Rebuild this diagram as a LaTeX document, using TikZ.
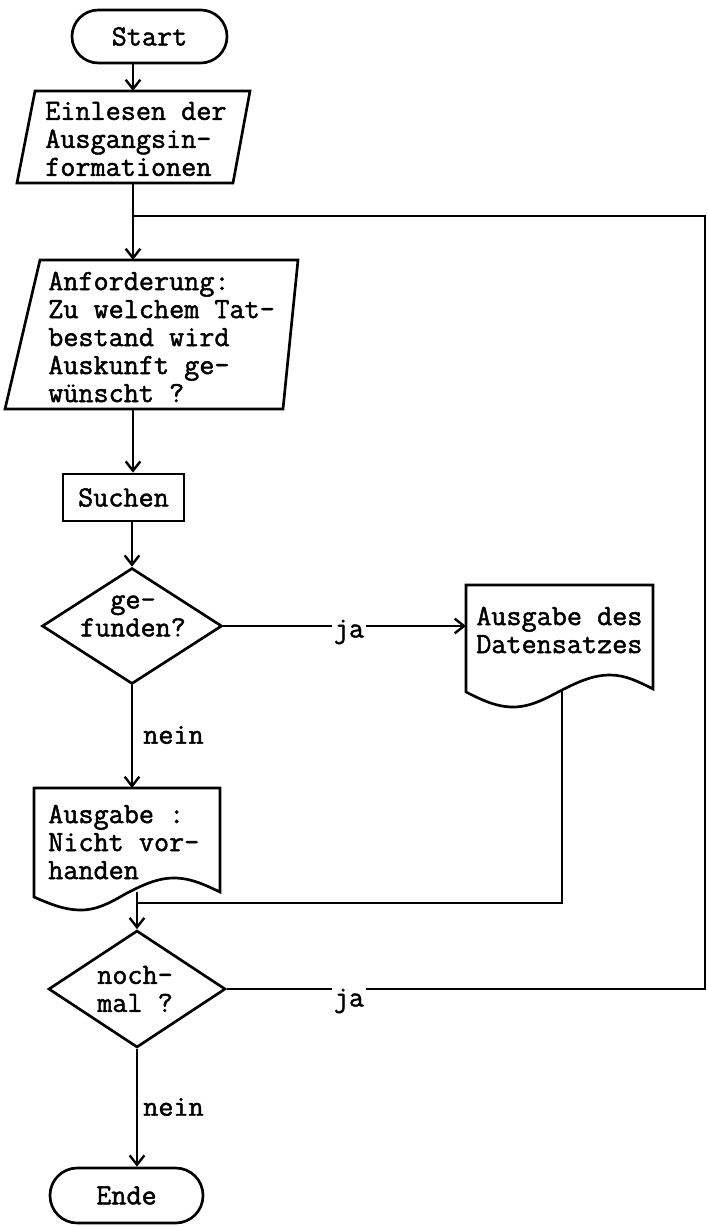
\documentclass[tikz,border=0pt]{standalone}
\usepackage{fontspec}
\newfontfamily\cour{Latin Modern Mono}[FakeBold=1.6]
\usetikzlibrary{arrows.meta,shapes.geometric}
\begin{document}
\begin{tikzpicture}[
  x=0.75pt, y=-0.75pt,
  txt/.style={font=\cour\fontsize{22pt}{21pt}\selectfont, align=left, inner sep=0pt},
  shp/.style={draw, line width=2pt},
  term/.style={shp, txt, rounded corners=19.8pt, minimum height=53*0.75pt},
  proc/.style={shp, txt, rectangle},
  dec/.style={shp, diamond, inner sep=0pt},
  ln/.style={line width=1.8pt},
  arr/.style={ln, -{Straight Barb[length=7pt,width=11pt,line width=1.8pt]}},
  lbl/.style={txt, fill=white, inner sep=1.5pt}
]
\useasboundingbox (0,0) rectangle (707,1226);

% Start
\node[term, minimum width=155*0.75pt] (start) at (149.5,36.5) {Start};

% Einlesen (input parallelogram)
\draw[shp] (35,91) -- (250,91) -- (233,183) -- (17,183) -- cycle;
\node[txt, anchor=west] (ein) at (45,139) {Einlesen der\\Ausgangsin-\\formationen};
\coordinate (einT) at (133,91);
\coordinate (einB) at (133,183);
\coordinate (j1) at (133,216);

% Anforderung (input parallelogram)
\draw[shp] (40,260) -- (298,260) -- (283,409) -- (5,409) -- cycle;
\node[txt, anchor=west] (anf) at (48,337) {Anforderung:\\Zu welchem Tat-\\bestand wird\\Auskunft ge-\\w\"unscht ?};
\coordinate (anfT) at (133,260);
\coordinate (anfB) at (133,409);

% Suchen
\node[proc, minimum width=121*0.75pt, minimum height=47*0.75pt] (such) at (123.5,497.5) {Suchen};

% gefunden?
\node[dec, minimum width=180*0.75pt, minimum height=116*0.75pt] (d1) at (132,626) {};
\node[txt, align=center] (d1t) at (133,616) {ge-\\funden?};

% Ausgabe des Datensatzes (document)
\draw[shp] (466,585) -- (653,585) -- (653,689) sin (610,675) cos (560,691) sin (513,707) cos (466,692) -- cycle;
\node[txt, anchor=west] (doc1) at (476,630) {Ausgabe des\\Datensatzes};
\coordinate (doc1L) at (466,626);
\coordinate (doc1B) at (562,691);

% Ausgabe : Nicht vorhanden (document)
\draw[shp] (34,788) -- (220,788) -- (220,892) sin (174,878) cos (127,893) sin (81,910) cos (34,897) -- cycle;
\node[txt, anchor=west] (doc2) at (48,842) {Ausgabe :\\Nicht vor-\\handen};
\coordinate (doc2T) at (135,788);
\coordinate (doc2B) at (138,892);

% nochmal ?
\node[dec, minimum width=177*0.75pt, minimum height=117*0.75pt] (d2) at (137,989) {};
\node[txt, anchor=west] (d2t) at (97,989) {noch-\\mal ?};
\coordinate (jn) at (137,903);
\coordinate (rc) at (705,989);

% Ende
\node[term, minimum width=153*0.75pt, minimum height=55*0.75pt, rounded corners=20.5pt] (ende) at (126.5,1195.5) {Ende};

% connectors
\draw[arr] (start.south -| einT) -- (einT);
\draw[ln] (einB) -- (j1);
\draw[arr] (j1) -- (anfT);
\draw[arr] (anfB) -- (such.north -| anfB);
\draw[arr] (such.south -| d1.north) -- (d1.north);
\draw[arr] (d1.east) -- (doc1L);
\node[lbl] (ja1) at (349,632) {ja};
\draw[arr] (d1.south) -- (d1.south |- doc2T);
\node[txt, anchor=west] (nein1) at (143,735) {nein};
\draw[ln] (doc1B) |- (jn);
\draw[arr] (d2.north |- doc2B) -- (d2.north);
\draw[ln] (d2.east) -- (rc) |- (j1);
\node[lbl] (ja2) at (349,1001) {ja};
\draw[arr] (d2.south) -- (ende.north -| d2.south);
\node[txt, anchor=west] (nein2) at (143,1107) {nein};
\end{tikzpicture}
\end{document}
